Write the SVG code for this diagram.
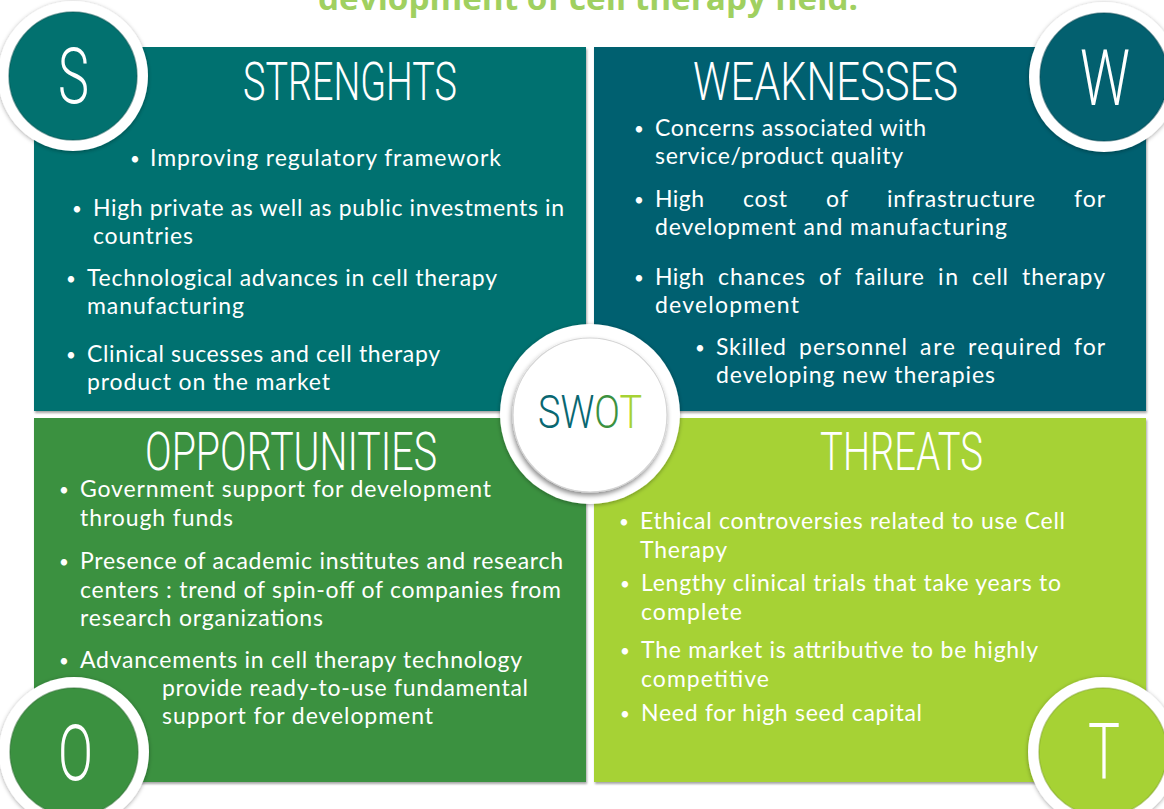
<svg xmlns="http://www.w3.org/2000/svg" width="1164" height="809" viewBox="0 0 1164 809">
  <defs>
    <style>
      .body { font-family: Lato, "Open Sans", "Liberation Sans", sans-serif; font-size: 23px; fill: #ffffff; }
      .bul { font-family: Lato, "Open Sans", "Liberation Sans", sans-serif; font-size: 17px; fill: #ffffff; }
      .hd { font-family: Roboto, "Liberation Sans", sans-serif; font-weight: 300; font-size: 53px; fill: #ffffff; text-transform: uppercase; }
      .cl { font-family: Roboto, "Liberation Sans", sans-serif; font-weight: 300; font-size: 78px; fill: #ffffff; }
      .sw { font-family: Roboto, "Liberation Sans", sans-serif; font-weight: 300; font-size: 46px; }
      .ring { fill: #ffffff; }
    </style>
    <filter id="panelShadow" x="-5%" y="-5%" width="110%" height="110%">
      <feDropShadow dx="1" dy="2" stdDeviation="1.2" flood-color="#000" flood-opacity="0.35"/>
    </filter>
    <filter id="ringShadow" x="-20%" y="-20%" width="140%" height="140%">
      <feDropShadow dx="0" dy="1" stdDeviation="2" flood-color="#000" flood-opacity="0.35"/>
    </filter>
    <filter id="discShadow" x="-20%" y="-20%" width="140%" height="140%">
      <feDropShadow dx="-1" dy="3" stdDeviation="2.5" flood-color="#000" flood-opacity="0.45"/>
    </filter>
    <!-- letter colours of the central word: S W teal, O green, T lime -->
    <linearGradient id="swotFill" gradientUnits="userSpaceOnUse" x1="538" y1="0" x2="642" y2="0">
      <stop offset="0" stop-color="#0a6670"/>
      <stop offset="0.532" stop-color="#0a6670"/>
      <stop offset="0.532" stop-color="#3b9140"/>
      <stop offset="0.781" stop-color="#3b9140"/>
      <stop offset="0.781" stop-color="#a6d234"/>
      <stop offset="1" stop-color="#a6d234"/>
    </linearGradient>
  </defs>

  <rect width="1164" height="809" fill="#ffffff"/>

  <!-- heading, clipped by the top edge -->
  <g id="title">
    <text x="318" y="9.5" font-family="'Open Sans', 'Liberation Sans', sans-serif" font-weight="700" font-size="33" fill="#a0d060" textLength="540" lengthAdjust="spacingAndGlyphs">devlopment of cell therapy field.</text>
  </g>

  <!-- Strengths quadrant -->
  <g id="node-strengths">
    <rect x="34" y="47" width="552" height="364" fill="#02716f" filter="url(#panelShadow)"/>
    <text class="hd" x="243" y="100" textLength="214" lengthAdjust="spacingAndGlyphs">Strenghts</text>
    <text class="bul" x="130" y="165">•</text>
    <text class="body" x="150" y="166" textLength="351" lengthAdjust="spacing">Improving regulatory framework</text>
    <text class="bul" x="72" y="215">•</text>
    <text class="body" x="93" y="216" textLength="471" lengthAdjust="spacing">High private as well as public investments in</text>
    <text class="body" x="93" y="244" textLength="100" lengthAdjust="spacing">countries</text>
    <text class="bul" x="66" y="285">•</text>
    <text class="body" x="87" y="286" textLength="410" lengthAdjust="spacing">Technological advances in cell therapy</text>
    <text class="body" x="87" y="314" textLength="157" lengthAdjust="spacing">manufacturing</text>
    <text class="bul" x="66" y="361">•</text>
    <text class="body" x="87" y="362" textLength="353" lengthAdjust="spacing">Clinical sucesses and cell therapy</text>
    <text class="body" x="87" y="390" textLength="243" lengthAdjust="spacing">product on the market</text>
  </g>

  <!-- Weaknesses quadrant (justified lines set word by word) -->
  <g id="node-weaknesses">
    <rect x="594" y="47" width="552" height="364" fill="#03606f" filter="url(#panelShadow)"/>
    <text class="hd" x="693" y="100" textLength="265" lengthAdjust="spacingAndGlyphs">Weaknesses</text>
    <text class="bul" x="634" y="135">•</text>
    <text class="body" x="655" y="136" textLength="271" lengthAdjust="spacing">Concerns associated with</text>
    <text class="body" x="655" y="164" textLength="248" lengthAdjust="spacing">service/product quality</text>
    <text class="bul" x="634" y="206">•</text>
    <text class="body" y="207"><tspan x="655" textLength="49">High</tspan><tspan x="743" textLength="44">cost</tspan><tspan x="826" textLength="22">of</tspan><tspan x="887" textLength="148">infrastructure</tspan><tspan x="1074" textLength="31">for</tspan></text>
    <text class="body" x="655" y="235" textLength="352" lengthAdjust="spacing">development and manufacturing</text>
    <text class="bul" x="634" y="284">•</text>
    <text class="body" y="285"><tspan x="655" textLength="49">High</tspan><tspan x="718" textLength="87">chances</tspan><tspan x="819" textLength="22">of</tspan><tspan x="855" textLength="69">failure</tspan><tspan x="938" textLength="20">in</tspan><tspan x="972" textLength="36">cell</tspan><tspan x="1022" textLength="83">therapy</tspan></text>
    <text class="body" x="655" y="313" textLength="144" lengthAdjust="spacing">development</text>
    <text class="bul" x="695" y="354">•</text>
    <text class="body" y="355"><tspan x="716" textLength="70">Skilled</tspan><tspan x="799" textLength="108">personnel</tspan><tspan x="920" textLength="35">are</tspan><tspan x="968" textLength="93">required</tspan><tspan x="1074" textLength="31">for</tspan></text>
    <text class="body" x="716" y="383" textLength="279" lengthAdjust="spacing">developing new therapies</text>
  </g>

  <!-- Opportunities quadrant -->
  <g id="node-opportunities">
    <rect x="34" y="418" width="552" height="364" fill="#3b9140" filter="url(#panelShadow)"/>
    <text class="hd" x="145" y="470" textLength="292" lengthAdjust="spacingAndGlyphs">Opportunities</text>
    <text class="bul" x="59" y="496">•</text>
    <text class="body" x="80" y="497" textLength="411" lengthAdjust="spacing">Government support for development</text>
    <text class="body" x="80" y="526" textLength="153" lengthAdjust="spacing">through funds</text>
    <text class="bul" x="59" y="568">•</text>
    <text class="body" x="80" y="569" textLength="483" lengthAdjust="spacing">Presence of academic institutes and research</text>
    <text class="body" x="80" y="598" textLength="481" lengthAdjust="spacing">centers : trend of spin-off of companies from</text>
    <text class="body" x="80" y="626" textLength="243" lengthAdjust="spacing">research organizations</text>
    <text class="bul" x="59" y="667">•</text>
    <text class="body" x="80" y="668" textLength="442" lengthAdjust="spacing">Advancements in cell therapy technology</text>
    <text class="body" x="162" y="696" textLength="366" lengthAdjust="spacing">provide ready-to-use fundamental</text>
    <text class="body" x="162" y="724" textLength="271" lengthAdjust="spacing">support for development</text>
  </g>

  <!-- Threats quadrant -->
  <g id="node-threats">
    <rect x="594" y="418" width="552" height="364" fill="#a6d234" filter="url(#panelShadow)"/>
    <text class="hd" x="820" y="470" textLength="163" lengthAdjust="spacingAndGlyphs">Threats</text>
    <text class="bul" x="619" y="528">•</text>
    <text class="body" x="640" y="529" textLength="425" lengthAdjust="spacing">Ethical controversies related to use Cell</text>
    <text class="body" x="640" y="558" textLength="87" lengthAdjust="spacing">Therapy</text>
    <text class="bul" x="620" y="590">•</text>
    <text class="body" x="641" y="591" textLength="420" lengthAdjust="spacing">Lengthy clinical trials that take years to</text>
    <text class="body" x="641" y="620" textLength="101" lengthAdjust="spacing">complete</text>
    <text class="bul" x="620" y="657">•</text>
    <text class="body" x="641" y="658" textLength="397" lengthAdjust="spacing">The market is attributive to be highly</text>
    <text class="body" x="641" y="687" textLength="128" lengthAdjust="spacing">competitive</text>
    <text class="bul" x="620" y="720">•</text>
    <text class="body" x="641" y="721" textLength="281" lengthAdjust="spacing">Need for high seed capital</text>
  </g>

  <!-- corner letter badges -->
  <g id="badge-s">
    <circle class="ring" cx="73" cy="76" r="75" filter="url(#ringShadow)"/>
    <circle cx="73" cy="76" r="64" fill="#02716f" stroke="#01524f" stroke-opacity="0.5" stroke-width="1.5"/>
    <text class="cl" x="58" y="103" textLength="31" lengthAdjust="spacingAndGlyphs">S</text>
  </g>
  <g id="badge-w">
    <circle class="ring" cx="1104" cy="77" r="75" filter="url(#ringShadow)"/>
    <circle cx="1104" cy="77" r="64" fill="#03606f" stroke="#014652" stroke-opacity="0.5" stroke-width="1.5"/>
    <text class="cl" x="1080" y="105" textLength="50" lengthAdjust="spacingAndGlyphs">W</text>
  </g>
  <g id="badge-o">
    <circle class="ring" cx="74" cy="752" r="75" filter="url(#ringShadow)"/>
    <circle cx="74" cy="752" r="64" fill="#3b9140" stroke="#2a6b2e" stroke-opacity="0.5" stroke-width="1.5"/>
    <text class="cl" x="58" y="780" textLength="35" lengthAdjust="spacingAndGlyphs">O</text>
  </g>
  <g id="badge-t">
    <circle class="ring" cx="1103" cy="752" r="75" filter="url(#ringShadow)"/>
    <circle cx="1103" cy="752" r="64" fill="#a6d234" stroke="#7ea224" stroke-opacity="0.5" stroke-width="1.5"/>
    <text class="cl" x="1088" y="778" textLength="32" lengthAdjust="spacingAndGlyphs">T</text>
  </g>

  <!-- central SWOT disc -->
  <g id="node-swot">
    <circle class="ring" cx="590" cy="414" r="90" filter="url(#ringShadow)"/>
    <circle cx="590" cy="415" r="77" fill="#ffffff" stroke="#d4d4d4" stroke-width="1.2" filter="url(#discShadow)"/>
    <text class="sw" x="538" y="428" fill="url(#swotFill)" textLength="104" lengthAdjust="spacingAndGlyphs">SWOT</text>
  </g>
</svg>
